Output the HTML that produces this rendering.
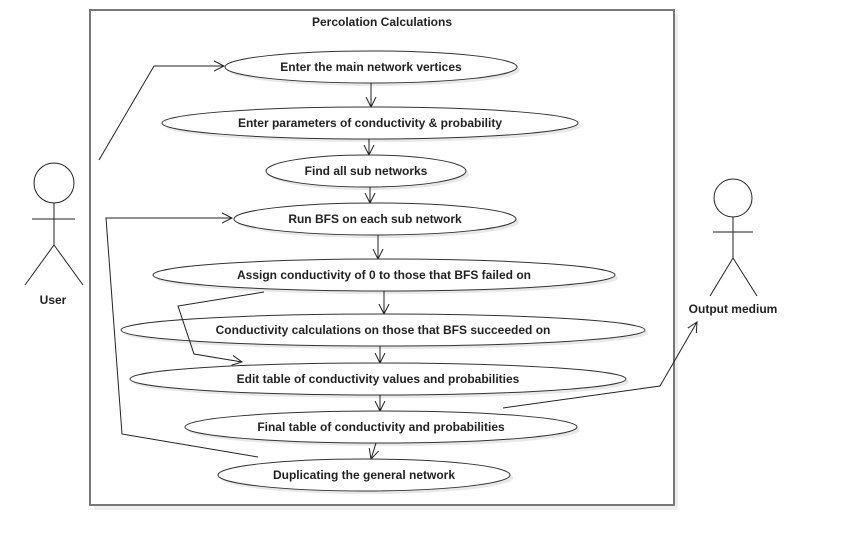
<!DOCTYPE html>
<html><head><meta charset="utf-8"><style>
body{margin:0;background:#fff;}
svg text{font-family:"Liberation Sans",sans-serif;font-size:12px;font-weight:bold;fill:#222;}
</style></head><body>
<svg width="842" height="546" xmlns="http://www.w3.org/2000/svg">
<defs>
<marker id="ah" markerWidth="12" markerHeight="12" refX="10" refY="6" orient="auto" markerUnits="userSpaceOnUse">
<path d="M0,1 L10,6 L0,11" fill="none" stroke="#222" stroke-width="1"/>
</marker>
</defs>
<rect x="94" y="14" width="584" height="496" fill="#eee"/>
<rect x="90" y="10" width="584" height="495" fill="#fff" stroke="#777" stroke-width="2"/>
<text x="382" y="26" text-anchor="middle">Percolation Calculations</text>
<g id="uc"></g>
<g fill="none" stroke="#222" stroke-width="1">
<polyline points="99,160 154,66 224,66" marker-end="url(#ah)"/>
<polyline points="258,457 122,434 106,218 232,218" marker-end="url(#ah)"/>
<polyline points="264,292 178,306 194,354 242,362" marker-end="url(#ah)"/>
<polyline points="503,408 660,386 697,322" marker-end="url(#ah)"/>
</g>
<g fill="none" stroke="#222" stroke-width="1">
<circle cx="54" cy="183" r="20" fill="#fff"/>
<line x1="54" y1="203" x2="54" y2="245"/>
<line x1="32" y1="219" x2="75" y2="219"/>
<line x1="54" y1="245" x2="25" y2="285"/>
<line x1="54" y1="245" x2="83" y2="285"/>
</g>
<text x="53" y="304" text-anchor="middle">User</text>
<g fill="none" stroke="#222" stroke-width="1">
<circle cx="733" cy="198" r="19" fill="#fff"/>
<line x1="733" y1="217" x2="733" y2="258"/>
<line x1="713" y1="232" x2="753" y2="232"/>
<line x1="733" y1="258" x2="710" y2="296"/>
<line x1="733" y1="258" x2="757" y2="296"/>
</g>
<text x="733" y="313" text-anchor="middle">Output medium</text>
</svg>
<script>
const labels=["Enter the main network vertices","Enter parameters of conductivity & probability","Find all sub networks","Run BFS on each sub network","Assign conductivity of 0 to those that BFS failed on","Conductivity calculations on those that BFS succeeded on","Edit table of conductivity values and probabilities","Final table of conductivity and probabilities","Duplicating the general network"];
const cxs=[371,370,366,375,384,383,378,381,364];
const cys=[67,123,171,219,275,330,379,427,475];
const rxs=[146,208,100,141,231,262,248,196,146];
const arrowTop=[371,369,370,378,384,380,380,376];
const arrowBot=[371,369,370,378,384,380,380,371];
const NS="http://www.w3.org/2000/svg";
const g=document.getElementById('uc');
for(let i=0;i<labels.length;i++){
 const sh=document.createElementNS(NS,'ellipse');
 sh.setAttribute('cx',cxs[i]+3);sh.setAttribute('cy',cys[i]+3);sh.setAttribute('rx',rxs[i]);sh.setAttribute('ry',16);sh.setAttribute('fill','#e8e8e8');
 
 
 g.appendChild(sh);
}
for(let i=0;i<labels.length;i++){
 const e=document.createElementNS(NS,'ellipse');
 e.setAttribute('cx',cxs[i]);e.setAttribute('cy',cys[i]);e.setAttribute('rx',rxs[i]);e.setAttribute('ry',16);
 e.setAttribute('fill','#fff');e.setAttribute('stroke','#333');
 
 
 g.appendChild(e);
 const t=document.createElementNS(NS,'text');
 t.setAttribute('x',cxs[i]);t.setAttribute('y',cys[i]+4);t.setAttribute('text-anchor','middle');
 t.textContent=labels[i];
 
 
 g.appendChild(t);
 if(i<labels.length-1){
  const l=document.createElementNS(NS,'line');
  l.setAttribute('x1',arrowTop[i]);l.setAttribute('y1',cys[i]+16);
  l.setAttribute('x2',arrowBot[i]);l.setAttribute('y2',cys[i+1]-16);
  l.setAttribute('stroke','#222');l.setAttribute('marker-end','url(#ah)');
  
  
  g.appendChild(l);
 }
}
</script>
</body></html>
